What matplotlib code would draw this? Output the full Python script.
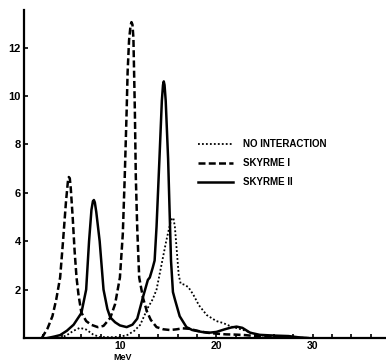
import matplotlib
matplotlib.use("Agg")
import matplotlib.pyplot as plt

# energy (MeV) / strength
e_free = [3.8, 4.5, 5.2, 5.85, 6.5, 7.2, 7.9, 9.0, 10.0, 10.8, 11.5, 12.1, 12.9, 13.4,
          13.8, 14.3, 14.8, 15.2, 15.4, 15.55, 15.7, 15.9, 16.1, 16.3, 16.7, 17.1, 17.6, 18.2,
          19.0, 20.0, 20.7, 21.5, 22.8, 24.2, 25.5, 27.0, 29.0, 30.0]
s_free = [0.0, 0.12, 0.3, 0.42, 0.35, 0.15, 0.04, 0.03, 0.05, 0.13, 0.3, 0.54, 1.25, 1.6,
          2.0, 3.0, 4.0, 4.7, 4.95, 4.95, 4.6, 3.6, 2.6, 2.25, 2.2, 2.1, 1.8, 1.35,
          0.95, 0.7, 0.62, 0.48, 0.33, 0.13, 0.07, 0.04, 0.01, 0.0]

e_sk1 = [1.9, 2.5, 3.0, 3.4, 3.8, 4.1, 4.4, 4.6, 4.7, 4.8, 4.9, 5.1, 5.3, 5.5, 5.7, 6.0,
         6.5, 7.0, 7.7, 8.3, 9.0, 9.5, 10.0, 10.3, 10.5, 10.7, 10.8, 10.95, 11.1, 11.2, 11.3,
         11.4, 11.55, 11.65, 11.8, 12.0, 12.4, 12.8, 13.2, 13.8, 14.5, 15.2, 15.9, 16.5,
         17.2, 18.0, 19.0, 20.0, 21.0, 22.0, 23.0, 24.0, 25.5, 27.0, 28.0]
s_sk1 = [0.0, 0.4, 0.9, 1.6, 2.5, 4.0, 5.6, 6.45, 6.65, 6.6, 6.2, 5.0, 3.6, 2.5, 1.8, 1.05,
         0.7, 0.55, 0.45, 0.5, 0.83, 1.4, 2.5, 4.3, 6.65, 9.4, 11.0, 12.3, 12.9, 13.05, 12.95,
         12.4, 9.4, 6.65, 4.5, 2.5, 1.65, 1.1, 0.75, 0.45, 0.36, 0.33, 0.36, 0.4,
         0.38, 0.3, 0.22, 0.18, 0.15, 0.14, 0.12, 0.08, 0.04, 0.01, 0.0]

e_sk2 = [2.5, 3.2, 3.8, 4.5, 5.2, 6.0, 6.5, 6.8, 7.05, 7.2, 7.3, 7.4, 7.55, 7.9, 8.3, 8.7, 9.0,
         9.5, 10.0, 10.7, 11.3, 11.8, 12.4, 12.9, 13.1, 13.4, 13.6, 13.8, 14.1, 14.35,
         14.47, 14.55, 14.63, 14.75, 15.0, 15.3, 15.5, 15.7, 16.2, 16.9, 17.5, 18.5, 19.3, 20.0, 20.8,
         21.5, 22.1, 22.7, 23.5, 24.5, 26.0, 27.5, 28.5, 29.5]
s_sk2 = [0.0, 0.06, 0.12, 0.3, 0.55, 1.03, 2.0, 4.0, 5.3, 5.65, 5.7, 5.6, 5.2, 4.0, 2.0, 1.2, 0.85,
         0.65, 0.52, 0.45, 0.55, 0.8, 1.7, 2.4, 2.5, 2.9, 3.2, 4.6, 7.4, 9.8,
         10.45, 10.6, 10.45, 9.8, 7.4, 3.2, 1.9, 1.6, 0.9, 0.45, 0.33, 0.25, 0.22, 0.25, 0.35,
         0.43, 0.47, 0.42, 0.22, 0.13, 0.1, 0.08, 0.03, 0.0]

labels = ["NO INTERACTION", "SKYRME I", "SKYRME II"]
y_ticks = [2, 4, 6, 8, 10, 12]
x_ticks = [2, 4, 6, 8, 10, 12, 14, 16, 18, 20, 22, 24, 26, 28, 30, 32, 34, 36]
x_ticklabels = ["", "", "", "", "10", "", "", "", "", "20", "", "", "", "", "30", "", "", ""]

plt.rcParams["font.family"] = "Liberation Sans"
plt.rcParams["font.weight"] = "bold"

fig = plt.figure(figsize=(3.86, 3.63), dpi=100)
ax = fig.add_axes([23.5 / 386, 25 / 363, 1 - 23.5 / 386, 328 / 363])

ax.plot(e_free, s_free, color="black", lw=1.3, linestyle=(0, (1, 1.2)), label=labels[0])
ax.plot(e_sk1, s_sk1, color="black", lw=1.8, linestyle=(0, (2.8, 1.3)), label=labels[1])
ax.plot(e_sk2, s_sk2, color="black", lw=1.8, label=labels[2])

ax.set_xlim(0, 37.6)
ax.set_ylim(0, 13.55)
ax.set_yticks(y_ticks)
ax.set_yticklabels([str(v) for v in y_ticks], fontsize=8, fontweight="bold")
ax.set_xticks(x_ticks)
ax.set_xticklabels(x_ticklabels, fontsize=7.5, fontweight="bold")
ax.tick_params(axis="y", direction="in", length=3, width=1.2, pad=2)
ax.tick_params(axis="x", direction="in", length=3, width=1.2, pad=2)

for s in ["top", "right"]:
    ax.spines[s].set_visible(False)
ax.spines["left"].set_linewidth(1.6)
ax.spines["bottom"].set_linewidth(1.6)

ax.annotate("MeV", xy=(10.3, 0), xycoords=("data", "axes fraction"),
            xytext=(0, -11), textcoords="offset points", ha="center", va="top",
            fontsize=6.5, fontweight="bold")

ax.legend(loc="upper left", bbox_to_anchor=(198 / 386, 1 - 139 / 363),
          bbox_transform=fig.transFigure, frameon=False, fontsize=7,
          handlelength=3.6, handletextpad=1.0, labelspacing=0.95,
          borderpad=0, borderaxespad=0)

fig.savefig("out.png", dpi=100)
